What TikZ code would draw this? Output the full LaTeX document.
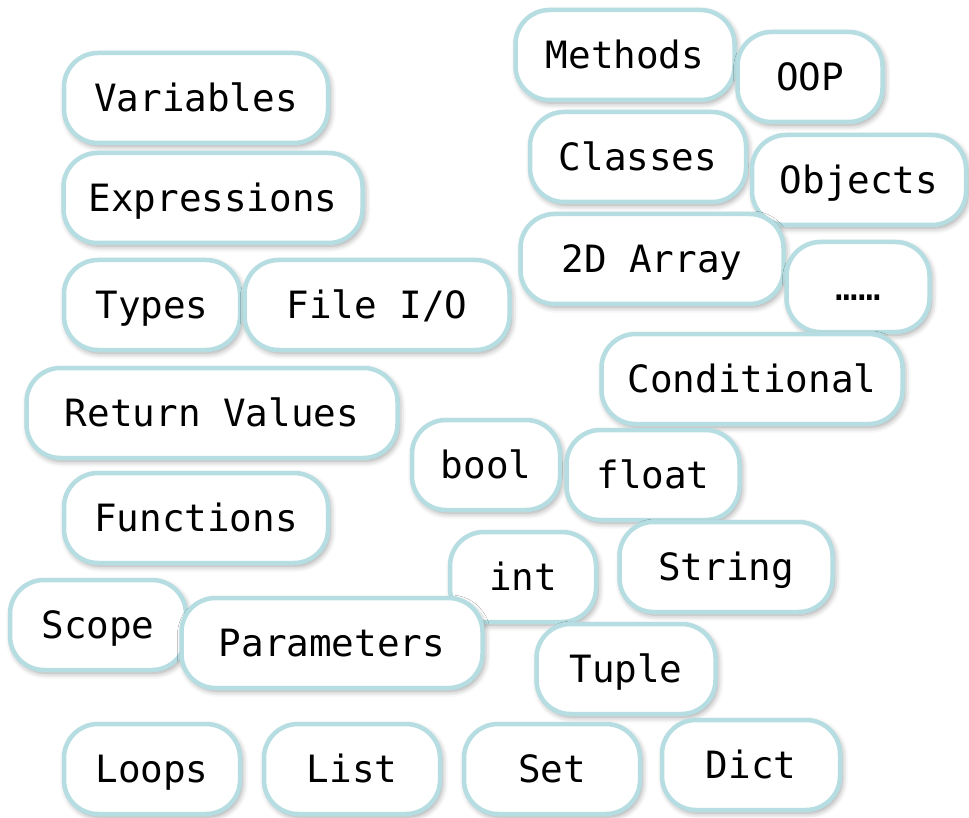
\documentclass[tikz,border=0pt]{standalone}
\usepackage{fontspec}
\newfontfamily\codefont{DejaVu Sans Mono}
\usetikzlibrary{shadows.blur}
\definecolor{topicedge}{HTML}{B6DDE1}

\tikzset{
  topic/.style={draw=topicedge, line width=4.5pt, fill=white, rounded corners=34pt,
    minimum height=90pt, inner sep=0pt, text height=27pt, text depth=0pt,
    font=\codefont\fontsize{37.6pt}{44pt}\selectfont,
    blur shadow={shadow xshift=2pt, shadow yshift=-3pt, shadow blur radius=6pt, shadow opacity=40}},
}

\begin{document}
\begin{tikzpicture}[x=1pt, y=-1pt]
\useasboundingbox (0,0) rectangle (969,818);
\node[topic, minimum width=219pt] (methods) at (625,55) {Methods};
\node[topic, minimum width=145pt] (oop) at (810,77) {OOP};
\node[topic, minimum width=216pt] (classes) at (638,157) {Classes};
\node[topic, minimum width=214pt] (objects) at (859,180) {Objects};
\node[topic, minimum width=263pt] (array) at (652,259) {2D Array};
\node[topic, minimum width=143pt] (more) at (858,287) {……};
\node[topic, minimum width=301pt] (cond) at (752,379) {Conditional};
\node[topic, minimum width=148pt] (bool) at (486,465) {bool};
\node[topic, minimum width=173pt] (float) at (653,475) {float};
\node[topic, minimum width=213pt] (string) at (726,567) {String};
\node[topic, minimum width=146pt] (int) at (523,577) {int};
\node[topic, minimum width=179pt] (tuple) at (626,669) {Tuple};
\node[topic, minimum width=264pt] (vars) at (196,98) {Variables};
\node[topic, minimum width=299pt] (expr) at (213,198) {Expressions};
\node[topic, minimum width=176pt] (types) at (152,305) {Types};
\node[topic, minimum width=265pt] (fileio) at (377,305) {File I/O};
\node[topic, minimum width=371pt] (retval) at (212,413) {Return Values};
\node[topic, minimum width=264pt] (funcs) at (196,518) {Functions};
\node[topic, minimum width=176pt] (scope) at (98,625) {Scope};
\node[topic, minimum width=301pt] (params) at (332,643) {Parameters};
\node[topic, minimum width=176pt] (loops) at (152,769) {Loops};
\node[topic, minimum width=176pt] (list) at (352,769) {List};
\node[topic, minimum width=176pt] (set) at (552,769) {Set};
\node[topic, minimum width=178pt] (dict) at (751,765) {Dict};
\end{tikzpicture}
\end{document}
